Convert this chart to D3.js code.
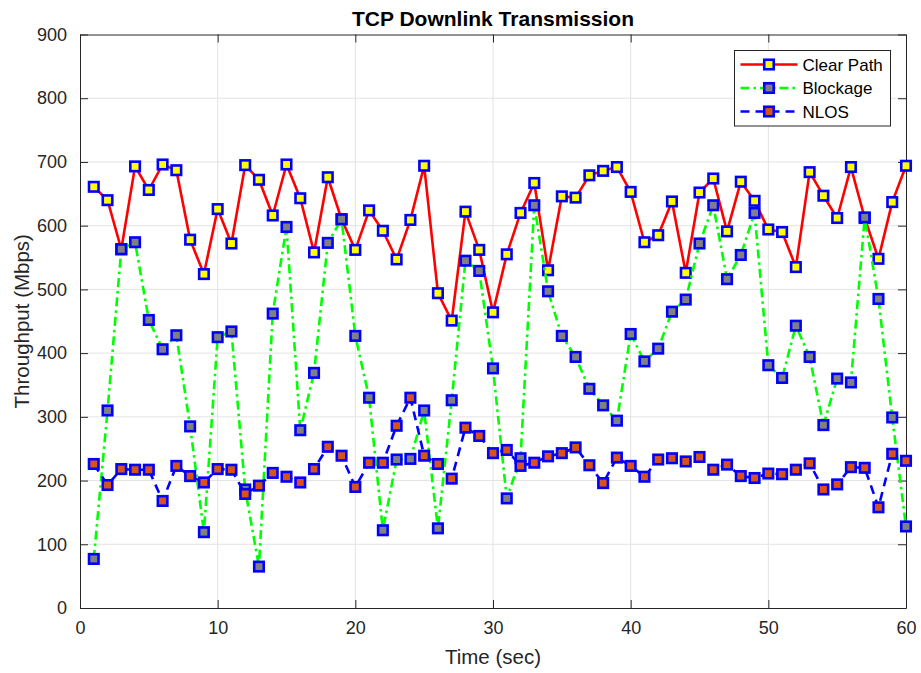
<!DOCTYPE html>
<html>
<head>
<meta charset="utf-8">
<script src="https://cdn.jsdelivr.net/npm/d3@7"></script>
<style>
  html, body { margin: 0; padding: 0; background: #fff; }
  svg { display: block; font-family: "Liberation Sans", Arial, sans-serif; }
</style>
</head>
<body>
<svg id="chart" width="921" height="673"></svg>
<script>
// Time axis (seconds) and measured throughput (Mbps) per scenario
const timeSec = d3.range(1, 61);
const clearPath = [661, 640, 563, 693, 656, 696, 687, 578, 524, 626,
                   572, 695, 672, 616, 696, 643, 558, 676, 610, 562,
                   624, 592, 547, 609, 694, 494, 451, 622, 562, 464,
                   555, 620, 667, 530, 646, 644, 679, 686, 692, 653,
                   574, 585, 638, 526, 652, 674, 591, 669, 639, 594,
                   590, 535, 684, 647, 612, 692, 612, 548, 637, 694];
const blockage = [77, 310, 563, 574, 452, 406, 428, 285, 119, 425,
                  434, 186, 65, 462, 598, 279, 369, 573, 610, 427,
                  330, 122, 233, 234, 310, 125, 326, 545, 529, 376,
                  172, 235, 632, 497, 427, 394, 344, 318, 294, 430,
                  387, 407, 465, 484, 572, 632, 516, 554, 620, 381,
                  361, 443, 394, 287, 360, 354, 613, 485, 299, 128];
const nlos = [226, 193, 218, 217, 217, 168, 223, 207, 197, 218,
              217, 179, 192, 212, 206, 197, 218, 253, 239, 190,
              228, 228, 286, 330, 239, 226, 203, 283, 270, 243,
              248, 223, 228, 238, 243, 252, 224, 196, 236, 223,
              206, 233, 235, 230, 237, 217, 225, 207, 204, 211,
              210, 217, 227, 186, 194, 221, 220, 158, 242, 231];

const seriesNames = ["Clear Path", "Blockage", "NLOS"];
const xTicks = [0, 10, 20, 30, 40, 50, 60];
const yTicks = [0, 100, 200, 300, 400, 500, 600, 700, 800, 900];

const titleText = "TCP Downlink Transmission";
const xLabel = "Time (sec)";
const yLabel = "Throughput (Mbps)";

// Visual style for each series
const styles = [
  { line: "#ff0000", dash: null,          fill: "#ffff00" },
  { line: "#00ff00", dash: "9,4,2.5,4",   fill: "#808080" },
  { line: "#0000ff", dash: "9,6",         fill: "#d95319" }
];
const seriesValues = [clearPath, blockage, nlos];

const svg = d3.select("#chart");
const plot = { left: 80, right: 906, top: 34.5, bottom: 608 };
const axisColor = "#262626";

const x = d3.scaleLinear().domain([0, 60]).range([plot.left, plot.right]);
const y = d3.scaleLinear().domain([0, 900]).range([plot.bottom, plot.top]);

// Grid lines
const grid = svg.append("g").attr("stroke", "#e3e3e3").attr("stroke-width", 1);
grid.selectAll(".gx").data(xTicks.slice(1, -1)).join("line")
  .attr("x1", d => x(d)).attr("x2", d => x(d))
  .attr("y1", plot.top).attr("y2", plot.bottom);
grid.selectAll(".gy").data(yTicks.slice(1, -1)).join("line")
  .attr("y1", d => y(d)).attr("y2", d => y(d))
  .attr("x1", plot.left).attr("x2", plot.right);

// Axes (box with inward ticks on all sides)
const tickLen = 8;
const fontTick = 18;
const bottomAxis = d3.axisBottom(x).tickValues(xTicks).tickSizeInner(-tickLen).tickSizeOuter(0).tickPadding(13);
const leftAxis = d3.axisLeft(y).tickValues(yTicks).tickSizeInner(-tickLen).tickSizeOuter(0).tickPadding(13);
const topAxis = d3.axisTop(x).tickValues(xTicks).tickSizeInner(-tickLen).tickSizeOuter(0).tickFormat("");
const rightAxis = d3.axisRight(y).tickValues(yTicks).tickSizeInner(-tickLen).tickSizeOuter(0).tickFormat("");

function styleAxis(g) {
  g.select(".domain").attr("stroke", axisColor).attr("stroke-width", 1);
  g.selectAll(".tick line").attr("stroke", axisColor).attr("stroke-width", 1);
  g.selectAll(".tick text").attr("fill", axisColor).attr("font-size", fontTick)
    .attr("font-family", "Liberation Sans, Arial, sans-serif");
}
svg.append("g").attr("transform", `translate(0,${plot.bottom})`).call(bottomAxis).call(styleAxis);
svg.append("g").attr("transform", `translate(${plot.left},0)`).call(leftAxis).call(styleAxis);
svg.append("g").attr("transform", `translate(0,${plot.top})`).call(topAxis).call(styleAxis);
svg.append("g").attr("transform", `translate(${plot.right},0)`).call(rightAxis).call(styleAxis);

// Series: line then square markers, drawn in order so NLOS sits on top
const markerSize = 9.5;
seriesValues.forEach((vals, i) => {
  const st = styles[i];
  const pts = timeSec.map((t, k) => [t, vals[k]]);
  const g = svg.append("g").attr("class", "series");
  g.append("path")
    .datum(pts)
    .attr("fill", "none")
    .attr("stroke", st.line)
    .attr("stroke-width", 2.6)
    .attr("stroke-dasharray", st.dash)
    .attr("stroke-linejoin", "round")
    .attr("d", d3.line().x(d => x(d[0])).y(d => y(d[1])));
  g.selectAll("rect").data(pts).join("rect")
    .attr("x", d => x(d[0]) - markerSize / 2)
    .attr("y", d => y(d[1]) - markerSize / 2)
    .attr("width", markerSize).attr("height", markerSize)
    .attr("fill", st.fill)
    .attr("stroke", "#0000ff")
    .attr("stroke-width", 2.6);
});

// Title and axis labels
svg.append("text")
  .attr("x", (plot.left + plot.right) / 2).attr("y", 26)
  .attr("text-anchor", "middle")
  .attr("font-size", 21).attr("font-weight", "bold").attr("fill", "#000")
  .text(titleText);
svg.append("text")
  .attr("x", (plot.left + plot.right) / 2).attr("y", 664)
  .attr("text-anchor", "middle")
  .attr("font-size", 20.5).attr("fill", axisColor)
  .text(xLabel);
svg.append("text")
  .attr("transform", `translate(29,${(plot.top + plot.bottom) / 2}) rotate(-90)`)
  .attr("text-anchor", "middle")
  .attr("font-size", 20.5).attr("fill", axisColor)
  .text(yLabel);

// Legend
const legend = { x: 734.5, y: 50.5, w: 156, h: 75.5 };
const lg = svg.append("g");
lg.append("rect")
  .attr("x", legend.x).attr("y", legend.y)
  .attr("width", legend.w).attr("height", legend.h)
  .attr("fill", "#fff").attr("stroke", axisColor).attr("stroke-width", 1);
seriesNames.forEach((name, i) => {
  const st = styles[i];
  const cy = legend.y + 14 + i * 23.5;
  lg.append("line")
    .attr("x1", legend.x + 6).attr("x2", legend.x + 63)
    .attr("y1", cy).attr("y2", cy)
    .attr("stroke", st.line).attr("stroke-width", 2.6)
    .attr("stroke-dasharray", st.dash);
  lg.append("rect")
    .attr("x", legend.x + 34.5 - markerSize / 2).attr("y", cy - markerSize / 2)
    .attr("width", markerSize).attr("height", markerSize)
    .attr("fill", st.fill).attr("stroke", "#0000ff").attr("stroke-width", 2.6);
  lg.append("text")
    .attr("x", legend.x + 68).attr("y", cy + 6)
    .attr("font-size", 17).attr("fill", "#000")
    .text(name);
});
</script>
</body>
</html>
